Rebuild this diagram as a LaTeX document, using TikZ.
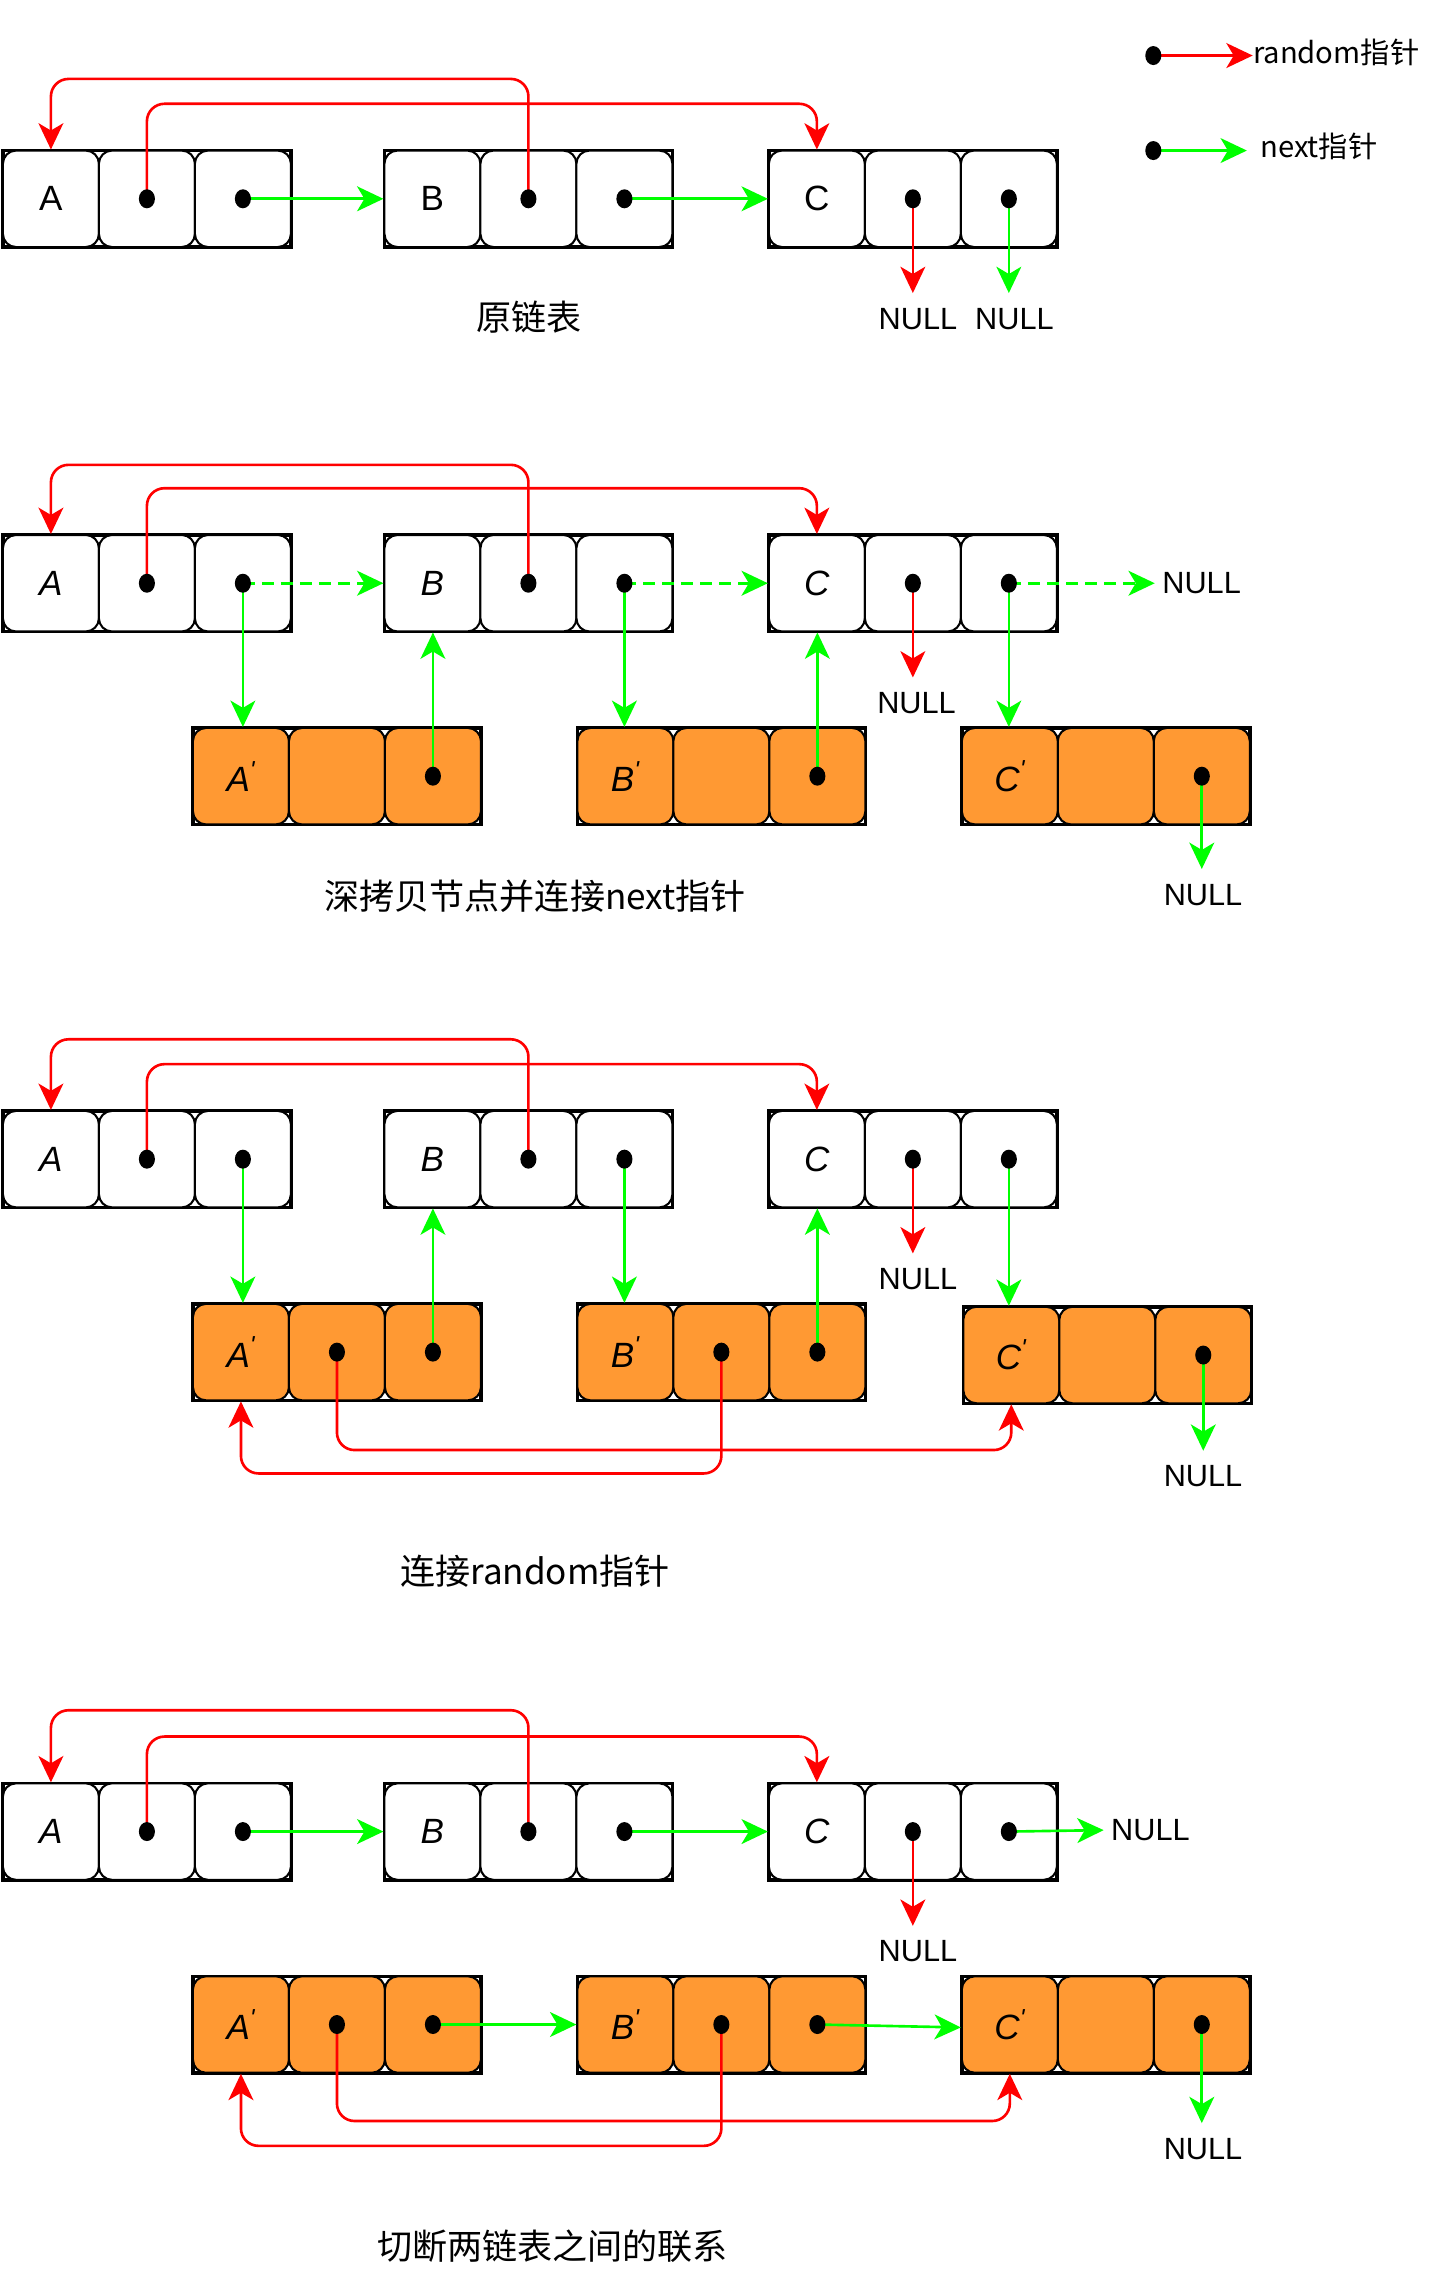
\documentclass[tikz,border=0pt]{standalone}
\usepackage{fontspec}
\setmainfont{Liberation Sans}
\newfontfamily\cjk{Noto Sans CJK SC}
\usetikzlibrary{arrows.meta}
\definecolor{rd}{HTML}{FF0000}
\definecolor{gn}{HTML}{00FF00}
\definecolor{og}{HTML}{FF9933}
\tikzset{
  cell/.style={rectangle, draw=black, line width=1.4pt, rounded corners=9pt,
    minimum width=65.67pt, minimum height=66pt, inner sep=0pt,
    font=\fontsize{24}{24}\selectfont},
  outerbox/.style={draw=black, line width=2.4pt, fill=white},
  arr/.style={line width=1.8pt, -{Stealth[length=18pt,width=17pt,inset=5pt]}},
  rnd/.style={arr, draw=rd, rounded corners=12pt},
  nxt/.style={arr, draw=gn},
  dnxt/.style={arr, draw=gn, dash pattern=on 8pt off 5pt},
  nullnode/.style={inner xsep=5pt, inner ysep=10pt, font=\fontsize{21}{21}\selectfont},
  titlenode/.style={font=\cjk\fontsize{24}{24}\selectfont},
  legnode/.style={font=\cjk\fontsize{20}{20}\selectfont, anchor=west, inner sep=0pt},
}
\newcommand\lnode[5]{%
  \draw[outerbox] (#2,#3) rectangle ++(197,66);
  \node[cell,fill=#4] (#1a) at (#2+32.83,#3+33) {#5};
  \node[cell,fill=#4] (#1b) at (#2+98.5,#3+33) {};
  \node[cell,fill=#4] (#1c) at (#2+164.17,#3+33) {};
}
\newcommand\dotat[1]{\fill[black] (#1) ellipse [x radius=5.5pt, y radius=6.5pt];}
\newcommand\pr{\textsuperscript{\textquotesingle}}
\begin{document}
\begin{tikzpicture}[x=1pt,y=-1pt]
\fill[white] (0,0) rectangle (987,1568);
\useasboundingbox (0,0) rectangle (987,1568);

% ---------- legend ----------
\coordinate (lr) at (789,38);
\coordinate (ln) at (789,103);
\node[legnode] (lrt) at (857,36) {random指针};
\node[legnode] (lnt) at (862,100) {next指针};
\draw[arr, draw=rd] (lr) -- (lrt.west |- lr);
\draw[nxt] (ln) -- (853,103);
\dotat{lr}\dotat{ln}

% ---------- panel 1 ----------
\lnode{p1A}{2}{103}{white}{A}
\lnode{p1B}{263}{103}{white}{B}
\lnode{p1C}{526}{103}{white}{C}
\node[nullnode] (n1a) at (628,218) {NULL};
\node[nullnode] (n1b) at (694,218) {NULL};
\draw[rnd] (p1Bb.center) -- (p1Bb.center |- 0,54) -| (p1Aa.north);
\draw[rnd] (p1Ab.center) -- (p1Ab.center |- 0,71) -| (p1Ca.north);
\draw[nxt] (p1Ac.center) -- (p1Ba.west);
\draw[nxt] (p1Bc.center) -- (p1Ca.west);
\draw[rnd] (p1Cb.center) -- (p1Cb.center |- n1a.north);
\draw[nxt] (p1Cc.center) -- (p1Cc.center |- n1b.north);
\foreach \d in {p1Ab,p1Ac,p1Bb,p1Bc,p1Cb,p1Cc}{\dotat{\d.center}}
\node[titlenode] (t1) at (362,217) {原链表};

% ---------- panel 2 ----------
\lnode{p2A}{2}{366}{white}{\itshape A}
\lnode{p2B}{263}{366}{white}{\itshape B}
\lnode{p2C}{526}{366}{white}{\itshape C}
\lnode{p2D}{132}{498}{og}{\itshape A\pr}
\lnode{p2E}{395}{498}{og}{\itshape B\pr}
\lnode{p2F}{658}{498}{og}{\itshape C\pr}
\node[nullnode, anchor=west] (n2a) at (790,399) {NULL};
\node[nullnode] (n2b) at (627,481) {NULL};
\node[nullnode] (n2c) at (823,612) {NULL};
\draw[rnd] (p2Bb.center) -- (p2Bb.center |- 0,318) -| (p2Aa.north);
\draw[rnd] (p2Ab.center) -- (p2Ab.center |- 0,334) -| (p2Ca.north);
\draw[dnxt] (p2Ac.center) -- (p2Ba.west);
\draw[dnxt] (p2Bc.center) -- (p2Ca.west);
\draw[dnxt] (p2Cc.center) -- (n2a.west);
\draw[rnd] (p2Cb.center) -- (p2Cb.center |- n2b.north);
\draw[nxt] (p2Ac.center) -- (p2Ac.center |- p2Da.north);
\draw[nxt] (p2Dc.center) -- (p2Dc.center |- p2Ba.south);
\draw[nxt] (p2Bc.center) -- (p2Bc.center |- p2Ea.north);
\draw[nxt] (p2Ec.center) -- (p2Ec.center |- p2Ca.south);
\draw[nxt] (p2Cc.center) -- (p2Cc.center |- p2Fa.north);
\draw[nxt] (p2Fc.center) -- (p2Fc.center |- n2c.north);
\foreach \d in {p2Ab,p2Ac,p2Bb,p2Bc,p2Cb,p2Cc,p2Dc,p2Ec,p2Fc}{\dotat{\d.center}}
\node[titlenode] (t2) at (366,613) {深拷贝节点并连接next指针};

% ---------- panel 3 ----------
\lnode{p3A}{2}{760}{white}{\itshape A}
\lnode{p3B}{263}{760}{white}{\itshape B}
\lnode{p3C}{526}{760}{white}{\itshape C}
\lnode{p3D}{132}{892}{og}{\itshape A\pr}
\lnode{p3E}{395}{892}{og}{\itshape B\pr}
\lnode{p3F}{659}{894}{og}{\itshape C\pr}
\node[nullnode] (n3a) at (628,875) {NULL};
\node[nullnode] (n3b) at (823,1010) {NULL};
\draw[rnd] (p3Bb.center) -- (p3Bb.center |- 0,711) -| (p3Aa.north);
\draw[rnd] (p3Ab.center) -- (p3Ab.center |- 0,728) -| (p3Ca.north);
\draw[rnd] (p3Cb.center) -- (p3Cb.center |- n3a.north);
\draw[nxt] (p3Ac.center) -- (p3Ac.center |- p3Da.north);
\draw[nxt] (p3Dc.center) -- (p3Dc.center |- p3Ba.south);
\draw[nxt] (p3Bc.center) -- (p3Bc.center |- p3Ea.north);
\draw[nxt] (p3Ec.center) -- (p3Ec.center |- p3Ca.south);
\draw[nxt] (p3Cc.center) -- (p3Cc.center |- p3Fa.north);
\draw[nxt] (p3Fc.center) -- (p3Fc.center |- n3b.north);
\draw[rnd] (p3Db.center) -- (p3Db.center |- 0,992) -| (p3Fa.south);
\draw[rnd] (p3Eb.center) -- (p3Eb.center |- 0,1008) -| (p3Da.south);
\foreach \d in {p3Ab,p3Ac,p3Bb,p3Bc,p3Cb,p3Cc,p3Db,p3Dc,p3Eb,p3Ec,p3Fc}{\dotat{\d.center}}
\node[titlenode] (t3) at (366,1075) {连接random指针};

% ---------- panel 4 ----------
\lnode{p4A}{2}{1220}{white}{\itshape A}
\lnode{p4B}{263}{1220}{white}{\itshape B}
\lnode{p4C}{526}{1220}{white}{\itshape C}
\lnode{p4D}{132}{1352}{og}{\itshape A\pr}
\lnode{p4E}{395}{1352}{og}{\itshape B\pr}
\lnode{p4F}{658}{1352}{og}{\itshape C\pr}
\node[nullnode, anchor=west] (n4a) at (755,1252) {NULL};
\node[nullnode] (n4b) at (628,1335) {NULL};
\node[nullnode] (n4c) at (823,1470) {NULL};
\draw[rnd] (p4Bb.center) -- (p4Bb.center |- 0,1170) -| (p4Aa.north);
\draw[rnd] (p4Ab.center) -- (p4Ab.center |- 0,1188) -| (p4Ca.north);
\draw[nxt] (p4Ac.center) -- (p4Ba.west);
\draw[nxt] (p4Bc.center) -- (p4Ca.west);
\draw[nxt] (p4Cc.center) -- (n4a.west);
\draw[rnd] (p4Cb.center) -- (p4Cb.center |- n4b.north);
\draw[nxt] (p4Dc.center) -- (p4Ea.west);
\draw[nxt] (p4Ec.center) -- ([yshift=-2pt]p4Fa.west);
\draw[nxt] (p4Fc.center) -- (p4Fc.center |- n4c.north);
\draw[rnd] (p4Db.center) -- (p4Db.center |- 0,1451) -| (p4Fa.south);
\draw[rnd] (p4Eb.center) -- (p4Eb.center |- 0,1468) -| (p4Da.south);
\foreach \d in {p4Ab,p4Ac,p4Bb,p4Bc,p4Cb,p4Cc,p4Db,p4Dc,p4Eb,p4Ec,p4Fc}{\dotat{\d.center}}
\node[titlenode] (t4) at (378,1537) {切断两链表之间的联系};
\end{tikzpicture}
\end{document}
